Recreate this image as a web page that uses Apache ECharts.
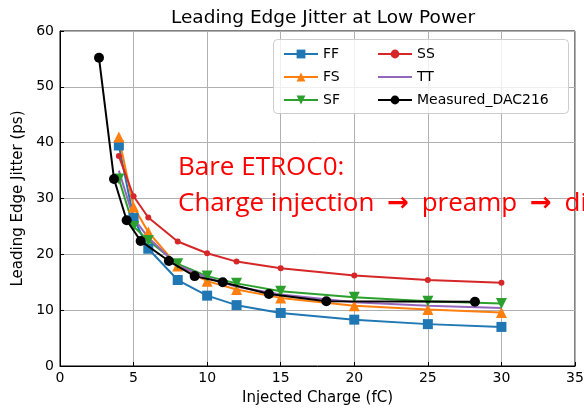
<!DOCTYPE html>
<html>
<head>
<meta charset="utf-8">
<script src="https://cdn.jsdelivr.net/npm/echarts@6/dist/echarts.min.js"></script>
<style>
  html, body { margin: 0; padding: 0; background: #fff; }
  #jitter-chart { width: 584px; height: 409px; }
</style>
</head>
<body>
<div id="jitter-chart"></div>
<script>
// simulated corners share the same charge points
const simCharge = [4, 5, 6, 8, 10, 12, 15, 20, 25, 30];
const ffJitter = [39.5, 26.5, 21.0, 15.4, 12.6, 10.9, 9.5, 8.3, 7.5, 7.0];
const fsJitter = [41.0, 28.5, 24.0, 17.9, 15.2, 13.7, 12.2, 10.8, 10.1, 9.6];
const sfJitter = [33.5, 25.0, 22.5, 18.3, 16.1, 14.8, 13.4, 12.3, 11.6, 11.2];
const ssJitter = [37.6, 30.4, 26.6, 22.3, 20.2, 18.7, 17.5, 16.2, 15.4, 14.9];
const ttJitter = [35.0, 26.5, 23.0, 18.0, 15.8, 14.2, 12.8, 11.4, 10.8, 10.4];

const measuredCharge = [2.65, 3.67, 4.53, 5.48, 7.4, 9.15, 11.06, 14.2, 18.1, 28.2];
const measuredJitter = [55.2, 33.5, 26.1, 22.4, 18.8, 16.1, 15.0, 12.9, 11.6, 11.5];

const xTicks = [0, 5, 10, 15, 20, 25, 30, 35];
const yTicks = [0, 10, 20, 30, 40, 50, 60];

const pairUp = (xs, ys) => xs.map((x, i) => [x, ys[i]]);
const fontFamily = 'DejaVu Sans';

const makeSeries = (name, xs, ys, color, symbol, size, extra) => Object.assign({
    name: name,
    type: 'line',
    data: pairUp(xs, ys),
    symbol: symbol,
    symbolSize: size,
    showSymbol: symbol !== 'none',
    lineStyle: {color: color, width: 2},
    itemStyle: {color: color, borderWidth: 0},
    emphasis: {disabled: true},
    animation: false,
}, extra || {});

const legendBase = {
    orient: 'vertical',
    top: 42,
    itemWidth: 34,
    itemHeight: 11,
    itemGap: 9,
    textStyle: {fontFamily: fontFamily, fontSize: 14, color: '#000'},
    z: 20,
};

const options = {
    animation: false,
    title: {
        text: 'Leading Edge Jitter at Low Power',
        left: 318,
        textAlign: 'center',
        top: 4,
        textStyle: {fontFamily: fontFamily, fontSize: 18.5, fontWeight: 'normal', color: '#000'},
    },
    grid: {
        left: 60,
        right: 9,
        top: 31,
        bottom: 43,
        outerBoundsMode: 'none',
        show: true,
        borderColor: '#000',
        borderWidth: 1,
    },
    legend: [
        Object.assign({left: 278, data: ['FF', 'FS', 'SF']}, legendBase),
        Object.assign({
            left: 372,
            data: ['SS', {name: 'TT', itemStyle: {color: 'rgba(0,0,0,0)', borderWidth: 0}}, 'Measured_DAC216'],
        }, legendBase),
    ],
    graphic: [
        {
            type: 'rect',
            left: 273,
            top: 39,
            z: 15,
            shape: {width: 295, height: 74, r: 4},
            style: {fill: 'rgba(255,255,255,0.8)', stroke: '#cccccc', lineWidth: 1},
        },
        {
            type: 'text',
            left: 178,
            top: 155,
            z: 30,
            style: {
                text: '{a|Bare ETROC0:}\n{a|Charge injection }{b|\u2192}{a| preamp }{b|\u2192}{a| discriminator}',
                fill: '#ff0000',
                rich: {
                    a: {fontFamily: 'Open Sans', fontSize: 26, lineHeight: 36, fill: '#ff0000'},
                    b: {fontFamily: 'DejaVu Sans', fontWeight: 'bold', fontSize: 26, lineHeight: 36, fill: '#ff0000', padding: [0, 6]},
                },
            },
        },
    ],
    xAxis: {
        type: 'value',
        min: xTicks[0],
        max: xTicks[xTicks.length - 1],
        interval: xTicks[1] - xTicks[0],
        name: 'Injected Charge (fC)',
        nameLocation: 'middle',
        nameGap: 25,
        nameTextStyle: {fontFamily: fontFamily, fontSize: 15, color: '#000'},
        axisLine: {lineStyle: {color: '#000', width: 1}},
        axisTick: {show: true, inside: true, length: 4, lineStyle: {color: '#000'}},
        axisLabel: {fontFamily: fontFamily, fontSize: 14, color: '#000', margin: 5},
        splitLine: {show: true, lineStyle: {color: '#b0b0b0', width: 1}},
    },
    yAxis: {
        type: 'value',
        min: yTicks[0],
        max: yTicks[yTicks.length - 1],
        interval: yTicks[1] - yTicks[0],
        name: 'Leading Edge Jitter (ps)',
        nameLocation: 'middle',
        nameGap: 34,
        nameTextStyle: {fontFamily: fontFamily, fontSize: 15, color: '#000'},
        axisLine: {show: true, lineStyle: {color: '#000', width: 1}},
        axisTick: {show: true, inside: true, length: 4, lineStyle: {color: '#000'}},
        axisLabel: {fontFamily: fontFamily, fontSize: 14, color: '#000', margin: 6},
        splitLine: {show: true, lineStyle: {color: '#b0b0b0', width: 1}},
    },
    series: [
        makeSeries('FF', simCharge, ffJitter, '#1f77b4', 'rect', 10),
        makeSeries('FS', simCharge, fsJitter, '#ff7f0e', 'triangle', 11),
        makeSeries('SF', simCharge, sfJitter, '#2ca02c', 'triangle', 11, {symbolRotate: 180}),
        makeSeries('SS', simCharge, ssJitter, '#d62728', 'circle', 6),
        makeSeries('TT', simCharge, ttJitter, '#9467bd', 'none', 0),
        makeSeries('Measured_DAC216', measuredCharge, measuredJitter, '#000000', 'circle', 10, {z: 5}),
    ],
};

const chartBox = document.getElementById('jitter-chart');
const chart = echarts.init(chartBox, null, {renderer: 'canvas'});
chart.setOption(options);
</script>
</body>
</html>
